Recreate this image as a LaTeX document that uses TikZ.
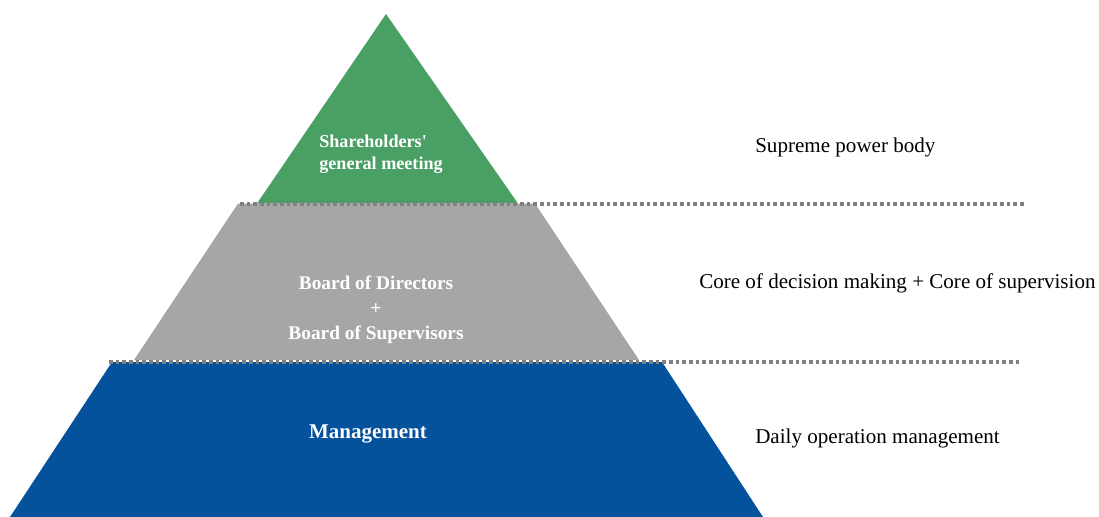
\documentclass[tikz,border=0pt]{standalone}
\usepackage{fontspec}
\setmainfont{Liberation Serif}
\usepackage{tikz}

\definecolor{topgreen}{RGB}{74,160,100}
\definecolor{midgray}{RGB}{166,166,166}
\definecolor{baseblue}{RGB}{4,82,156}
\definecolor{dotgray}{RGB}{128,128,128}

\begin{document}
\begin{tikzpicture}[x=0.75pt, y=-0.75pt]
    \tikzstyle{layer text}=[
        text = white,
        align = center,
        inner sep = 0pt
    ]
    \tikzstyle{side text}=[
        text = black,
        font = \fontsize{15.8}{19}\selectfont,
        anchor = west,
        inner sep = 0pt
    ]
    \tikzstyle{level line}=[
        draw = dotgray,
        line width = 3pt,
        dash pattern = on 2.7pt off 2.3pt
    ]

    \useasboundingbox (0,0) rectangle (1099,517);

    % pyramid layers
    \fill[topgreen] (386,14) -- (518,203.5) -- (257,203.5) -- cycle;
    \fill[midgray]  (238,203.5) -- (535,203.5) -- (639,360) -- (134,360) -- cycle;
    \fill[baseblue] (112,362) -- (662,362) -- (763,517) -- (10,517) -- cycle;

    \coordinate (l1) at (240,203.5);
    \coordinate (r1) at (1025,203.5);
    \coordinate (l2) at (109,361.5);
    \coordinate (r2) at (1022,361.5);

    \path[level line] (l1) -- (r1);
    \path[level line] (l2) -- (r2);

    \node[layer text, align=left, font=\bfseries\fontsize{13.6}{16.5}\selectfont]
        (share) at (381,154) {Shareholders\textquotesingle\\general meeting};
    \node[layer text, font=\bfseries\fontsize{14.5}{18.75}\selectfont]
        (board) at (376,310) {Board of Directors\\+\\Board of Supervisors};
    \node[layer text, font=\bfseries\fontsize{15.75}{19}\selectfont]
        (manage) at (368,434) {Management};

    \node[side text] (supreme) at (755,147) {Supreme power body};
    \node[side text] (core)    at (699,283) {Core of decision making + Core of supervision};
    \node[side text] (daily)   at (755,438) {Daily operation management};

\end{tikzpicture}
\end{document}
